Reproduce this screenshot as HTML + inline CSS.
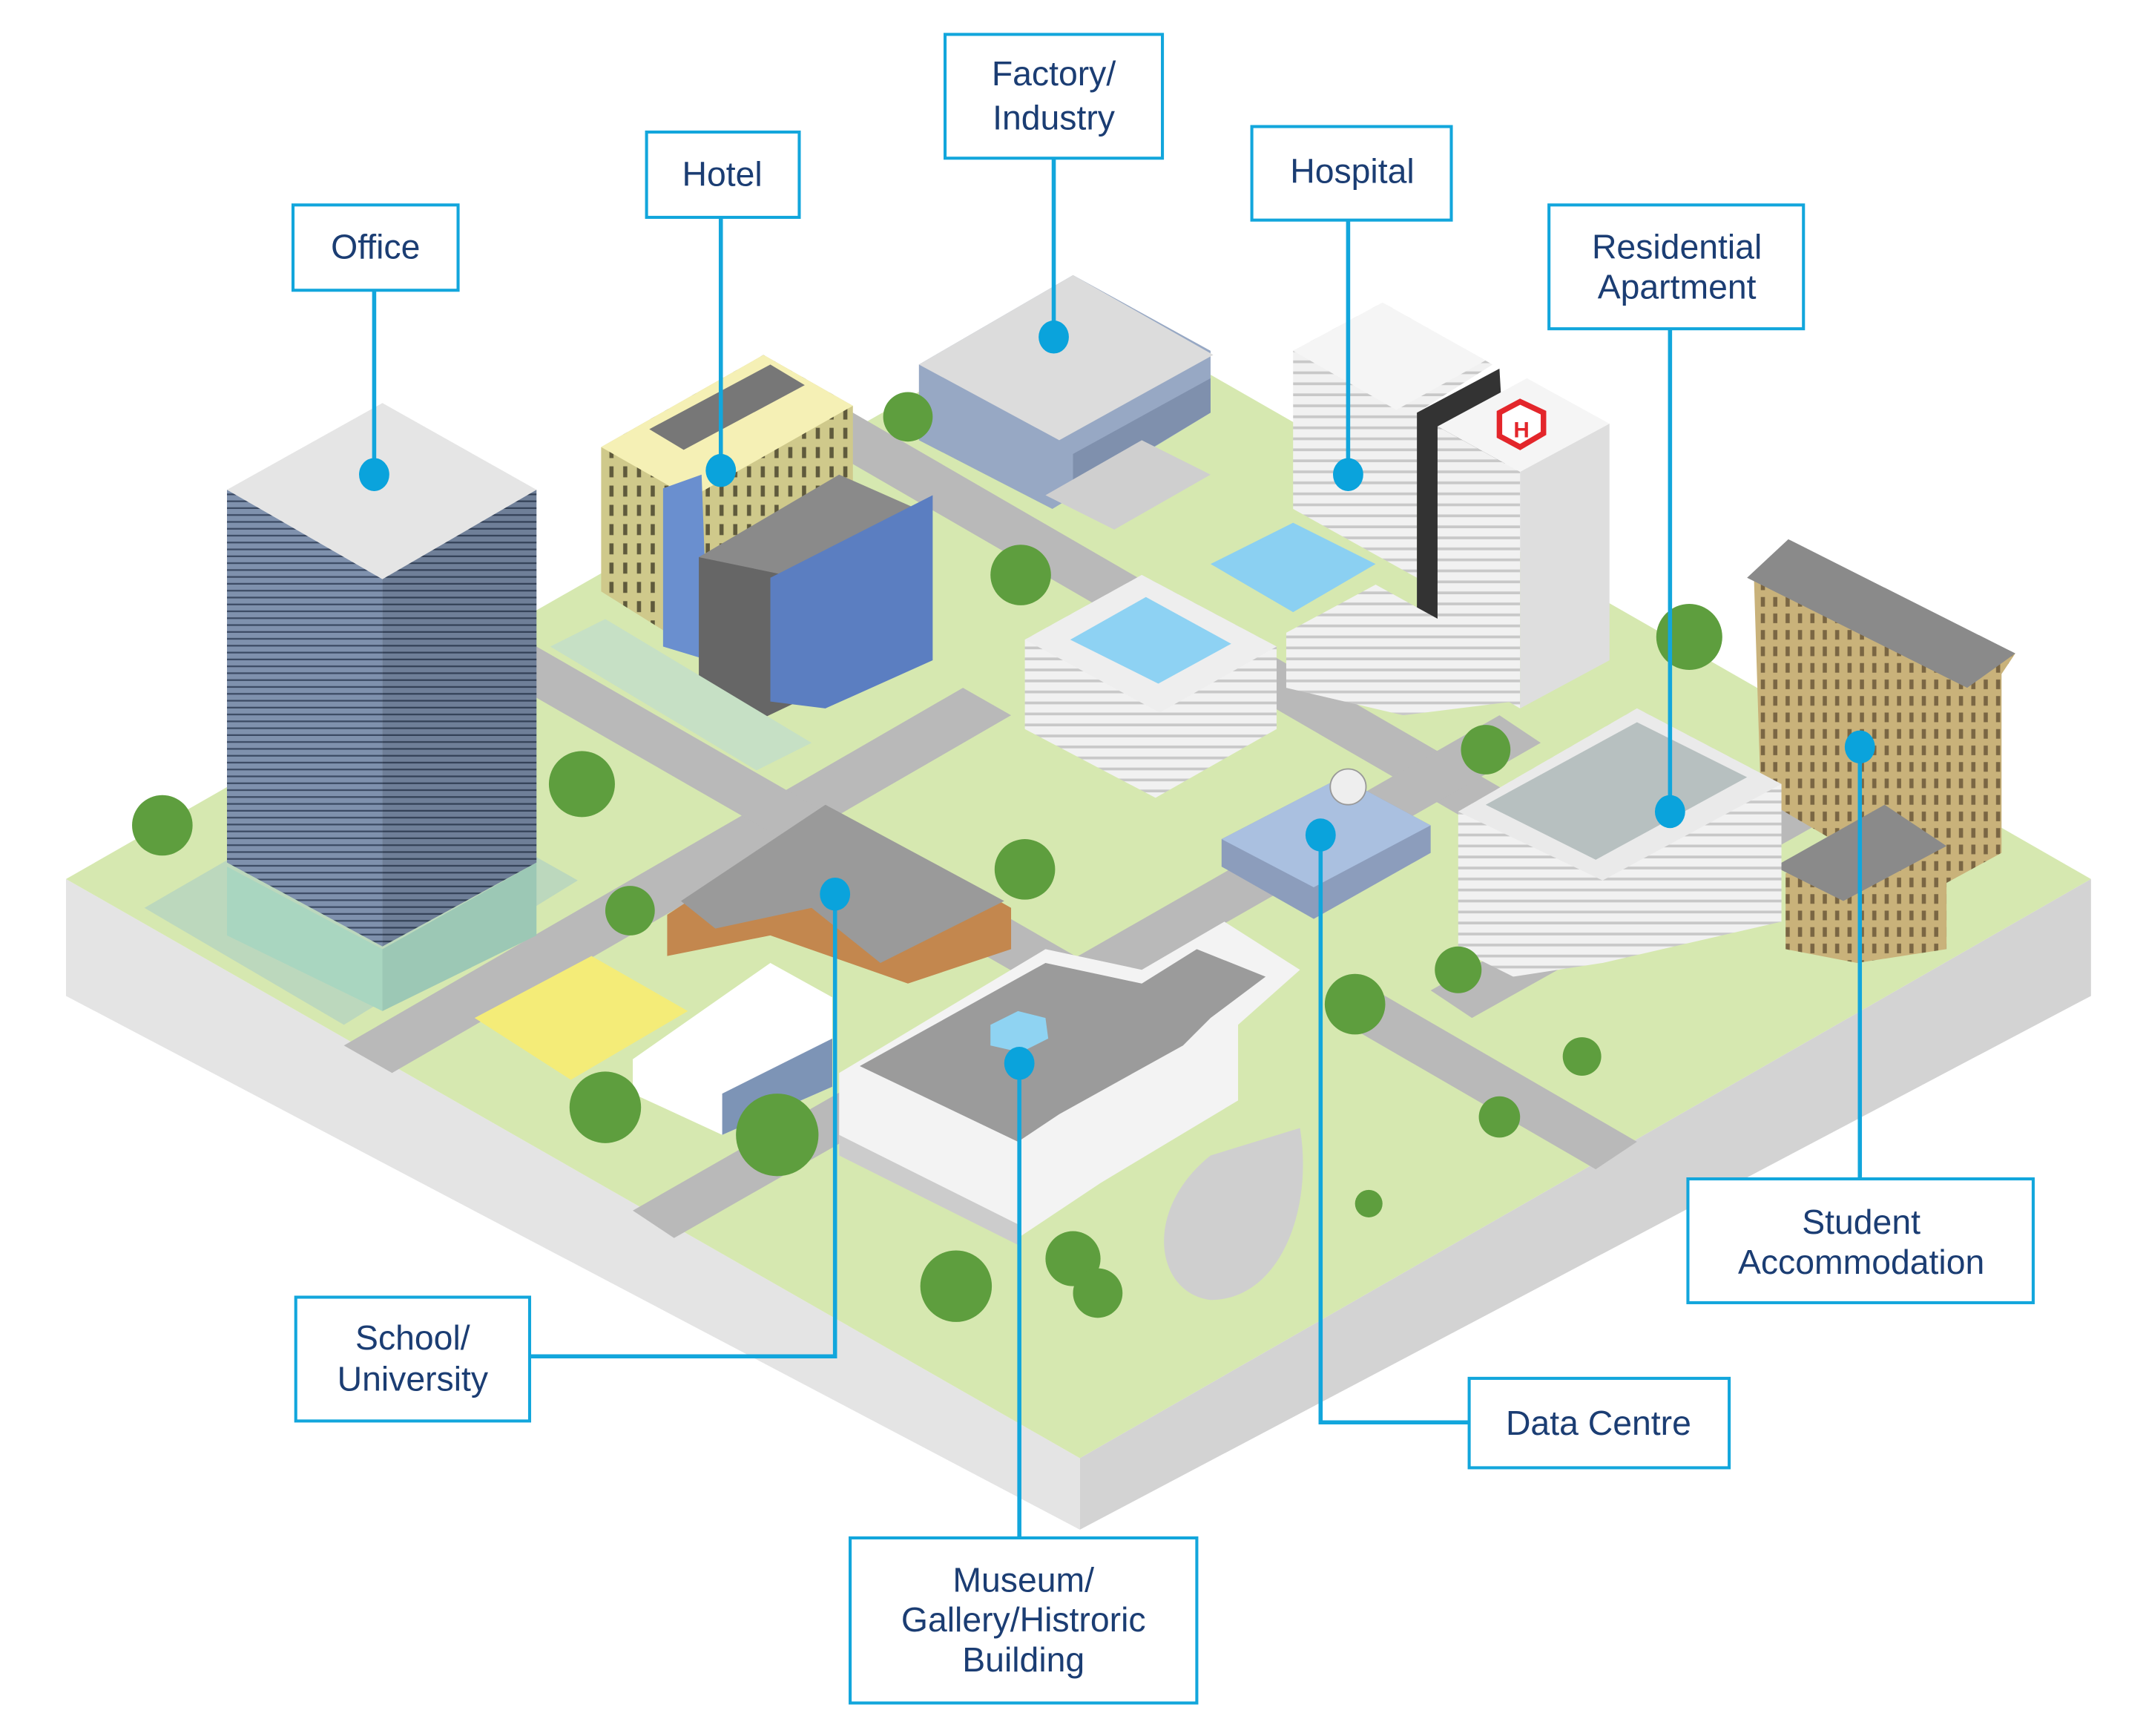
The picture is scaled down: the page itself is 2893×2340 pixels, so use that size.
<!DOCTYPE html>
<html><head><meta charset="utf-8"><style>
html,body{margin:0;padding:0;background:#fff;}
svg{display:block;}
.lb{fill:#fff;stroke:#12a6dc;stroke-width:2.2;}
.ln{stroke:#12a6dc;stroke-width:3;fill:none;}
.dt{fill:#0aa3dc;}
.tx{font-family:"Liberation Sans",sans-serif;font-size:25px;fill:#1b3d73;text-anchor:middle;}
</style></head><body>
<svg width="2893" height="2340" viewBox="0 0 1560 1262" preserveAspectRatio="none" xmlns="http://www.w3.org/2000/svg">
<defs>
<pattern id="st" width="10" height="5" patternUnits="userSpaceOnUse"><rect width="10" height="5" fill="#7f91ad"/><rect y="3.8" width="10" height="1.2" fill="#3b4a63"/></pattern>
<pattern id="win" width="9" height="12" patternUnits="userSpaceOnUse"><rect width="9" height="12" fill="#c9b27a"/><rect x="2" y="2" width="3" height="7" fill="#7a6643"/></pattern>
<pattern id="wh" width="10" height="8" patternUnits="userSpaceOnUse"><rect width="10" height="8" fill="#f1f1f1"/><rect y="6" width="10" height="2" fill="#c8c8c8"/></pattern>
<pattern id="yw" width="10" height="14" patternUnits="userSpaceOnUse"><rect width="10" height="14" fill="#cfc98b"/><rect x="3" y="3" width="3" height="8" fill="#5f5a3c"/></pattern>
</defs>
<!-- platform -->
<polygon points="48,639 785,1060 785,1112 48,724" fill="#e4e4e4"/>
<polygon points="785,1060 1520,639 1520,724 785,1112" fill="#d3d3d3"/>
<polygon points="48,639 785,218 1520,639 785,1060" fill="#d6e8b0"/>
<!-- roads -->
<polygon points="250,760 700,500 735,520 285,780" fill="#b9b9b9"/>
<polygon points="390,470 860,740 830,760 360,490" fill="#b9b9b9"/>
<polygon points="620,300 1190,630 1160,650 590,320" fill="#b9b9b9"/>
<polygon points="460,880 1090,520 1120,540 490,900" fill="#b9b9b9"/>
<polygon points="1040,720 1290,580 1320,600 1070,740" fill="#b9b9b9"/>
<polygon points="1000,720 1190,830 1160,850 970,740" fill="#b9b9b9"/>
<!-- office tower -->
<polygon points="105,660 278,560 420,640 250,745" fill="#bcd8bd"/>
<polygon points="165,630 278,690 278,735 165,680" fill="#a9d6c0"/>
<polygon points="278,690 390,627 390,680 278,735" fill="#9cc8b5"/>
<polygon points="165,356 278,421 278,688 165,627" fill="url(#st)"/>
<polygon points="278,421 390,356 390,627 278,688" fill="url(#st)"/>
<polygon points="278,421 390,356 390,627 278,688" fill="#000" opacity="0.12"/>
<polygon points="165,356 278,293 390,356 278,421" fill="#e5e5e5"/>
<!-- hotel -->
<polygon points="437,325 555,258 620,295 620,380 520,435 485,460 437,430" fill="url(#yw)"/>
<polygon points="437,325 555,258 620,295 502,362" fill="#f5f0b5"/>
<polygon points="472,312 560,265 585,280 497,327" fill="#777"/>
<polygon points="482,355 510,345 515,480 482,470" fill="#6a8fcf"/>
<polygon points="508,405 580,365 580,510 538,530 508,510" fill="#666"/>
<polygon points="508,405 610,345 678,375 580,420" fill="#8a8a8a"/>
<polygon points="560,420 678,360 678,480 600,515 560,510" fill="#5b7ec1"/>
<polygon points="400,470 440,450 590,540 550,560" fill="#c6e0c5"/>
<!-- factory -->
<polygon points="668,265 780,200 880,255 880,300 765,370 668,320" fill="#97a8c4"/>
<polygon points="668,265 780,200 882,258 770,320" fill="#dcdcdc"/>
<polygon points="780,330 880,275 880,300 780,360" fill="#7f90ad"/>
<polygon points="760,360 830,320 880,345 810,385" fill="#cfcfcf"/>
<!-- hospital -->
<polygon points="940,255 1005,220 1085,265 1030,300 1030,420 940,370" fill="url(#wh)"/>
<polygon points="940,255 1005,220 1080,262 1015,298" fill="#f5f5f5"/>
<polygon points="1030,300 1090,268 1100,440 1030,470" fill="#333"/>
<polygon points="1045,310 1110,275 1170,308 1105,343" fill="#f5f5f5"/>
<polygon points="1045,310 1105,343 1105,515 1045,480" fill="url(#wh)"/>
<polygon points="1105,343 1170,308 1170,480 1105,515" fill="#dedede"/>
<polygon points="1090,300 1105,292 1122,300 1122,315 1105,325 1090,317" fill="#fff" stroke="#e3262b" stroke-width="4"/>
<text x="1106" y="318" font-family="Liberation Sans" font-size="16" font-weight="bold" fill="#e3262b" text-anchor="middle">H</text>
<polygon points="880,410 940,380 1000,410 940,445" fill="#8bd0f2"/>
<polygon points="935,460 1000,425 1100,480 1100,510 1020,520 935,500" fill="url(#wh)"/>
<!-- center white building -->
<polygon points="745,465 830,418 928,470 928,530 840,580 745,530" fill="url(#wh)"/>
<polygon points="745,465 830,418 928,470 843,518" fill="#eee"/>
<polygon points="778,465 833,434 895,468 842,497" fill="#8ed2f3"/>
<!-- student accommodation -->
<polygon points="1275,420 1300,395 1465,475 1455,490 1455,620 1400,650 1280,580" fill="url(#win)"/>
<polygon points="1270,420 1300,392 1465,475 1430,500" fill="#8a8a8a"/>
<polygon points="1298,635 1370,590 1415,620 1415,690 1350,700 1298,690" fill="url(#win)"/>
<polygon points="1290,630 1370,585 1415,615 1340,655" fill="#8a8a8a"/>
<!-- residential -->
<polygon points="1060,590 1190,515 1295,570 1295,670 1165,700 1100,710 1060,690" fill="url(#wh)"/>
<polygon points="1060,590 1190,515 1295,570 1165,640" fill="#eaeaea"/>
<polygon points="1080,585 1190,525 1270,565 1160,625" fill="#b7c0c0"/>
<!-- data centre -->
<polygon points="888,610 975,565 1040,600 1040,620 955,668 888,630" fill="#8c9dbc"/>
<polygon points="888,610 975,565 1040,600 955,645" fill="#aac0e0"/>
<circle cx="980" cy="572" r="13" fill="#eee" stroke="#999"/>
<!-- school -->
<polygon points="485,665 600,590 700,640 735,660 735,690 660,715 560,680 485,695" fill="#c3874e"/>
<polygon points="495,655 600,585 730,655 640,700 590,660 520,675" fill="#9a9a9a"/>
<polygon points="345,740 430,695 500,735 415,785" fill="#f4ec78"/>
<polygon points="460,770 560,700 605,725 605,790 525,825 460,795" fill="#fff"/>
<polygon points="525,795 605,755 605,790 525,825" fill="#7d94b6"/>
<!-- museum -->
<polygon points="610,780 760,690 830,705 890,670 945,705 900,745 900,800 800,860 740,900 610,840" fill="#f3f3f3"/>
<polygon points="625,775 760,700 830,715 870,690 920,710 880,740 860,760 770,810 740,830" fill="#9b9b9b"/>
<polygon points="720,745 740,735 760,740 762,755 742,765 720,760" fill="#8fd3f2"/>
<polygon points="610,825 740,890 740,905 610,840" fill="#ccc"/>
<path d="M880,840 C830,880 840,940 880,945 C930,945 955,880 945,820 Z" fill="#cfcfcf"/>
<!-- trees -->
<g fill="#5e9e3e">
<circle cx="118" cy="600" r="22"/><circle cx="423" cy="570" r="24"/><circle cx="660" cy="303" r="18"/>
<circle cx="742" cy="418" r="22"/><circle cx="1228" cy="463" r="24"/><circle cx="458" cy="662" r="18"/>
<circle cx="745" cy="632" r="22"/><circle cx="985" cy="730" r="22"/><circle cx="440" cy="805" r="26"/>
<circle cx="565" cy="825" r="30"/><circle cx="695" cy="935" r="26"/><circle cx="780" cy="915" r="20"/>
<circle cx="798" cy="940" r="18"/><circle cx="1080" cy="545" r="18"/><circle cx="1060" cy="705" r="17"/>
<circle cx="1090" cy="812" r="15"/><circle cx="1150" cy="768" r="14"/><circle cx="995" cy="875" r="10"/>
</g>
<!-- connectors -->
<g class="ln">
<line x1="272" y1="211" x2="272" y2="344"/>
<line x1="524" y1="158" x2="524" y2="342"/>
<line x1="766" y1="115" x2="766" y2="245"/>
<line x1="980" y1="160" x2="980" y2="345"/>
<line x1="1214" y1="240" x2="1214" y2="590"/>
<line x1="1352" y1="857" x2="1352" y2="543"/>
<polyline points="1068,1034 960,1034 960,607"/>
<line x1="741" y1="1118" x2="741" y2="773"/>
<polyline points="385,986 607,986 607,650"/>
</g>
<g class="dt">
<ellipse cx="272" cy="345" rx="11" ry="12"/><ellipse cx="524" cy="342" rx="11" ry="12"/>
<ellipse cx="766" cy="245" rx="11" ry="12"/><ellipse cx="980" cy="345" rx="11" ry="12"/>
<ellipse cx="1214" cy="590" rx="11" ry="12"/><ellipse cx="1352" cy="543" rx="11" ry="12"/>
<ellipse cx="960" cy="607" rx="11" ry="12"/><ellipse cx="741" cy="773" rx="11" ry="12"/>
<ellipse cx="607" cy="650" rx="11" ry="12"/>
</g>
<!-- labels -->
<rect class="lb" x="213" y="149" width="120" height="62"/><text class="tx" x="273" y="188">Office</text>
<rect class="lb" x="470" y="96" width="111" height="62"/><text class="tx" x="525" y="135">Hotel</text>
<rect class="lb" x="687" y="25" width="158" height="90"/><text class="tx" x="766" y="62">Factory/</text><text class="tx" x="766" y="94">Industry</text>
<rect class="lb" x="910" y="92" width="145" height="68"/><text class="tx" x="983" y="133">Hospital</text>
<rect class="lb" x="1126" y="149" width="185" height="90"/><text class="tx" x="1219" y="188">Residential</text><text class="tx" x="1219" y="217">Apartment</text>
<rect class="lb" x="1227" y="857" width="251" height="90"/><text class="tx" x="1353" y="897">Student</text><text class="tx" x="1353" y="926">Accommodation</text>
<rect class="lb" x="1068" y="1002" width="189" height="65"/><text class="tx" x="1162" y="1043">Data Centre</text>
<rect class="lb" x="618" y="1118" width="252" height="120"/><text class="tx" x="744" y="1157">Museum/</text><text class="tx" x="744" y="1186">Gallery/Histroric</text><text class="tx" x="744" y="1215">Building</text>
<rect class="lb" x="215" y="943" width="170" height="90"/><text class="tx" x="300" y="981">School/</text><text class="tx" x="300" y="1011">University</text>
</svg>
</body></html>
